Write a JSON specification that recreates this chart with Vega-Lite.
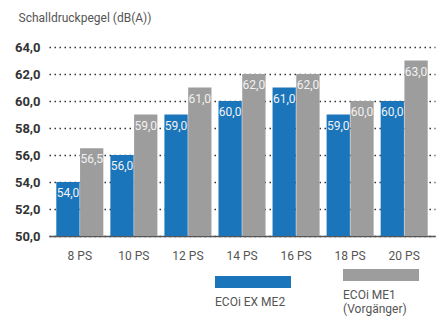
{
  "$schema": "https://vega.github.io/schema/vega-lite/v6.json",
  "autosize": {"type": "none"},
  "padding": {"left": 49, "top": 47, "right": 8, "bottom": 93},
  "width": 386,
  "height": 189,
  "background": "white",
  "config": {
    "view": {"stroke": null},
    "locale": {"number": {"decimal": ",", "thousands": ".", "grouping": [3], "currency": ["", " €"]}},
    "font": "Roboto, Liberation Sans, sans-serif"
  },
  "data": {
    "values": [
      {"ps": "8 PS", "series": "ECOi EX ME2", "value": 54.0},
      {"ps": "8 PS", "series": "ECOi ME1 (Vorgänger)", "value": 56.5},
      {"ps": "10 PS", "series": "ECOi EX ME2", "value": 56.0},
      {"ps": "10 PS", "series": "ECOi ME1 (Vorgänger)", "value": 59.0},
      {"ps": "12 PS", "series": "ECOi EX ME2", "value": 59.0},
      {"ps": "12 PS", "series": "ECOi ME1 (Vorgänger)", "value": 61.0},
      {"ps": "14 PS", "series": "ECOi EX ME2", "value": 60.0},
      {"ps": "14 PS", "series": "ECOi ME1 (Vorgänger)", "value": 62.0},
      {"ps": "16 PS", "series": "ECOi EX ME2", "value": 61.0},
      {"ps": "16 PS", "series": "ECOi ME1 (Vorgänger)", "value": 62.0},
      {"ps": "18 PS", "series": "ECOi EX ME2", "value": 59.0},
      {"ps": "18 PS", "series": "ECOi ME1 (Vorgänger)", "value": 60.0},
      {"ps": "20 PS", "series": "ECOi EX ME2", "value": 60.0},
      {"ps": "20 PS", "series": "ECOi ME1 (Vorgänger)", "value": 63.0}
    ]
  },
  "encoding": {
    "x": {
      "field": "ps", "type": "nominal", "sort": null,
      "scale": {"paddingInner": 0.13, "paddingOuter": 0.135},
      "axis": {
        "title": null, "labelAngle": 0, "ticks": false, "labelPadding": 14,
        "labelFontSize": 12, "labelColor": "#555555",
        "domainColor": "#555555", "domainWidth": 1.5, "grid": false
      }
    },
    "y": {
      "field": "value", "type": "quantitative",
      "scale": {"domain": [50, 64], "zero": false, "nice": false},
      "axis": {
        "values": [50, 52, 54, 56, 58, 60, 62, 64],
        "format": ".1f",
        "title": "Schalldruckpegel (dB(A))",
        "titleAngle": 0, "titleAlign": "left", "titleBaseline": "middle",
        "titleX": -31, "titleY": -30, "titleFontSize": 12, "titleFontWeight": "normal", "titleColor": "#555555",
        "domain": false, "ticks": false, "labelPadding": 9,
        "labelFontSize": 13, "labelFontWeight": "bold", "labelColor": "#333333",
        "grid": true, "gridColor": "#333333", "gridWidth": 1.5, "gridDash": [1.5, 3.5]
      }
    },
    "xOffset": {"field": "series", "type": "nominal", "scale": {"paddingInner": 0.02}}
  },
  "layer": [
    {
      "mark": {"type": "bar"},
      "encoding": {
        "y2": {"datum": 50},
        "color": {
          "field": "series", "type": "nominal",
          "scale": {"domain": ["ECOi EX ME2", "ECOi ME1 (Vorgänger)"], "range": ["#1b75bb", "#9d9d9d"]},
          "legend": {
            "title": null, "orient": "none", "direction": "horizontal",
            "legendX": 166, "legendY": 190, "padding": 0,
            "symbolType": "M-1,-0.16H1V0.16H-1Z", "symbolSize": 5776,
            "symbolStrokeWidth": 0, "symbolOpacity": 1,
            "columnPadding": 52, "labelOffset": 0,
            "labelFontSize": 12, "labelColor": "#555555", "labelBaseline": "top",
            "labelLineHeight": 17, "labelLimit": 200,
            "labelExpr": "datum.label == 'ECOi ME1 (Vorgänger)' ? ['ECOi ME1', '(Vorgänger)'] : datum.label",
            "encode": {"labels": {"update": {"dx": {"value": -76}, "dy": {"value": 15}}}}
          }
        }
      }
    },
    {
      "mark": {"type": "text", "baseline": "top", "dy": 6, "color": "#f2f2f2", "fontSize": 12},
      "encoding": {
        "text": {"field": "value", "type": "quantitative", "format": ".1f"}
      }
    }
  ]
}
